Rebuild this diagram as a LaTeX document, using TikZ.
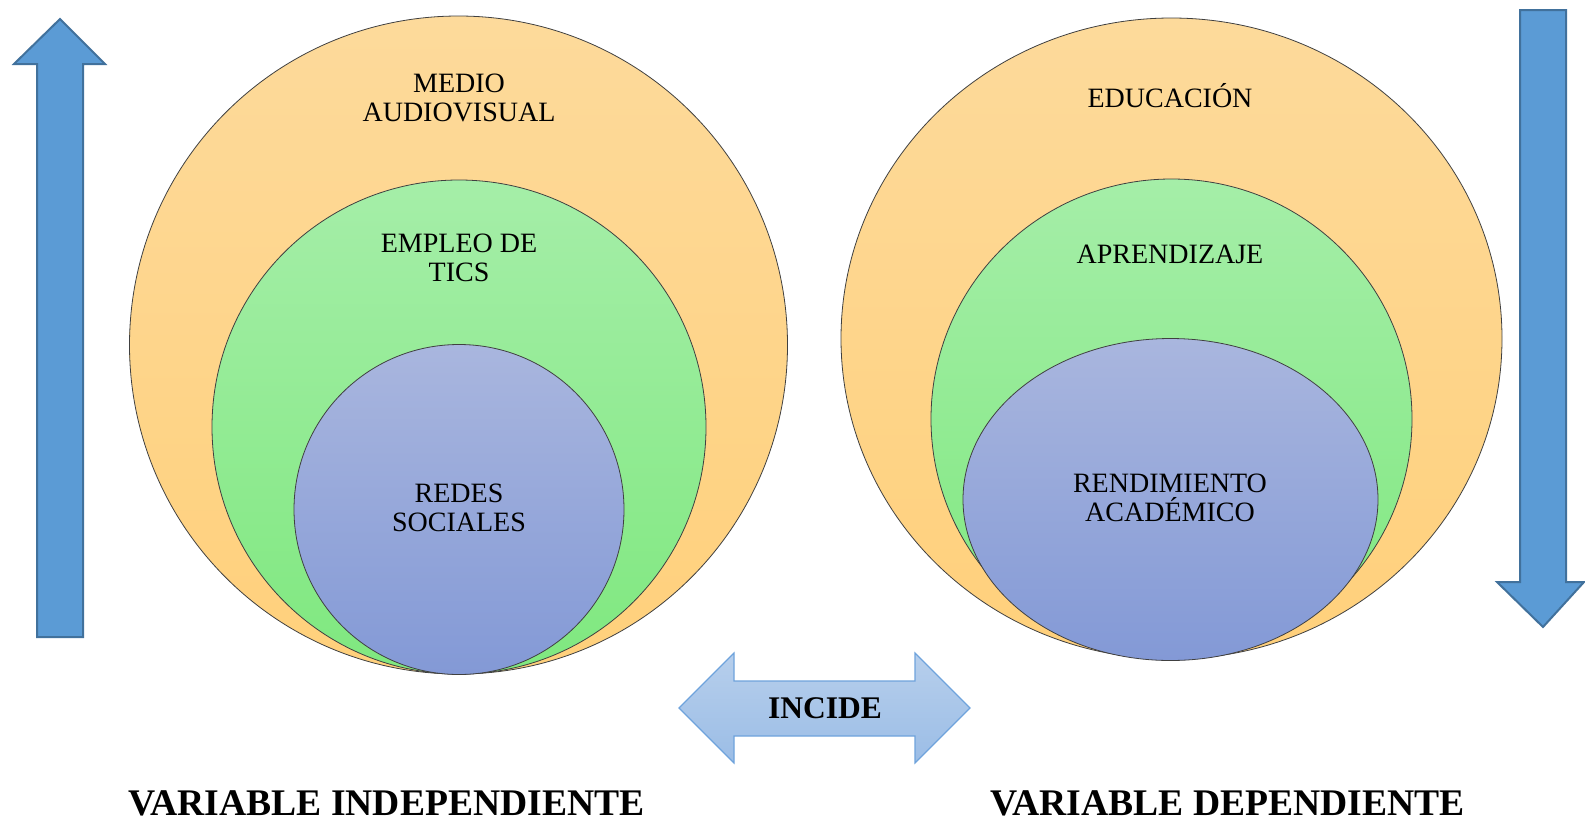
\documentclass[tikz,border=0pt]{standalone}
\usepackage{fontspec}
\setmainfont{Liberation Serif}
\usetikzlibrary{shapes.geometric}
\definecolor{orT}{HTML}{FDDA9B}
\definecolor{orB}{HTML}{FFD07B}
\definecolor{grT}{HTML}{A5EEA8}
\definecolor{grB}{HTML}{7FE87F}
\definecolor{blT}{HTML}{A9B6DE}
\definecolor{blB}{HTML}{8399D6}
\definecolor{arF}{HTML}{5B9BD5}
\definecolor{arD}{HTML}{41719C}
\definecolor{daT}{HTML}{B7CFEC}
\definecolor{daB}{HTML}{9BBDE6}
\definecolor{daD}{HTML}{6FA3DC}
\tikzset{
  orb/.style={draw=black!75, line width=0.8pt, top color=orT, bottom color=orB, inner sep=0pt},
  grb/.style={draw=black!75, line width=0.8pt, top color=grT, bottom color=grB, inner sep=0pt},
  blb/.style={draw=black!75, line width=0.8pt, top color=blT, bottom color=blB, inner sep=0pt},
  lbl/.style={anchor=base, font=\fontsize{28}{29}\selectfont, inner sep=0pt},
  big/.style={anchor=base west, font=\fontsize{37.6}{40}\selectfont\bfseries, inner sep=0pt},
  bluearrow/.style={fill=arF, draw=arD, line width=2pt, line join=miter},
  dblarrow/.style={top color=daT, bottom color=daB, draw=daD, line width=1.2pt, line join=miter}
}
\begin{document}
\begin{tikzpicture}[x=1pt,y=-1pt]
\useasboundingbox (0,0) rectangle (1585,820);
% left circles
\node[orb, circle, minimum size=658pt] (o1) at (458.5,345) {};
\node[grb, circle, minimum size=494pt] (g1) at (459,427) {};
\node[blb, circle, minimum size=330pt] (b1) at (459,509.5) {};
% right ellipses
\node[orb, ellipse, minimum width=661pt, minimum height=641pt] (o2) at (1171.5,338.5) {};
\node[grb, ellipse, minimum width=481pt, minimum height=480pt] (g2) at (1171.5,419) {};
\node[blb, ellipse, minimum width=415pt, minimum height=322pt] (b2) at (1170.5,499.5) {};
% labels
\node[lbl] (t1a) at (459,92) {MEDIO};
\node[lbl] (t1b) at (459,121) {AUDIOVISUAL};
\node[lbl] (t2a) at (459,252) {EMPLEO DE};
\node[lbl] (t2b) at (459,281) {TICS};
\node[lbl] (t3a) at (459,502) {REDES};
\node[lbl] (t3b) at (459,531) {SOCIALES};
\node[lbl] (t4) at (1170,107) {EDUCACIÓN};
\node[lbl] (t5) at (1170,263) {APRENDIZAJE};
\node[lbl] (t6a) at (1170,492) {RENDIMIENTO};
\node[lbl] (t6b) at (1170,521) {ACADÉMICO};
% up arrow
\draw[bluearrow] (60,19) -- (105,64) -- (83,64) -- (83,637) -- (37,637) -- (37,64) -- (14,64) -- cycle;
% down arrow
\draw[bluearrow] (1520,10) -- (1566,10) -- (1566,582) -- (1584,582) -- (1543,627) -- (1497,582) -- (1520,582) -- cycle;
% double arrow
\draw[dblarrow] (679,708) -- (734,653) -- (734,681) -- (915,681) -- (915,653) -- (970,708) -- (915,763) -- (915,736) -- (734,736) -- (734,763) -- cycle;
\node[anchor=base, font=\fontsize{31.5}{34}\selectfont\bfseries, inner sep=0pt] (inc) at (825,718.5) {INCIDE};
% bottom titles
\node[big] (vi) at (128,815) {VARIABLE INDEPENDIENTE};
\node[big] (vd) at (990,815) {VARIABLE DEPENDIENTE};
\end{tikzpicture}
\end{document}
